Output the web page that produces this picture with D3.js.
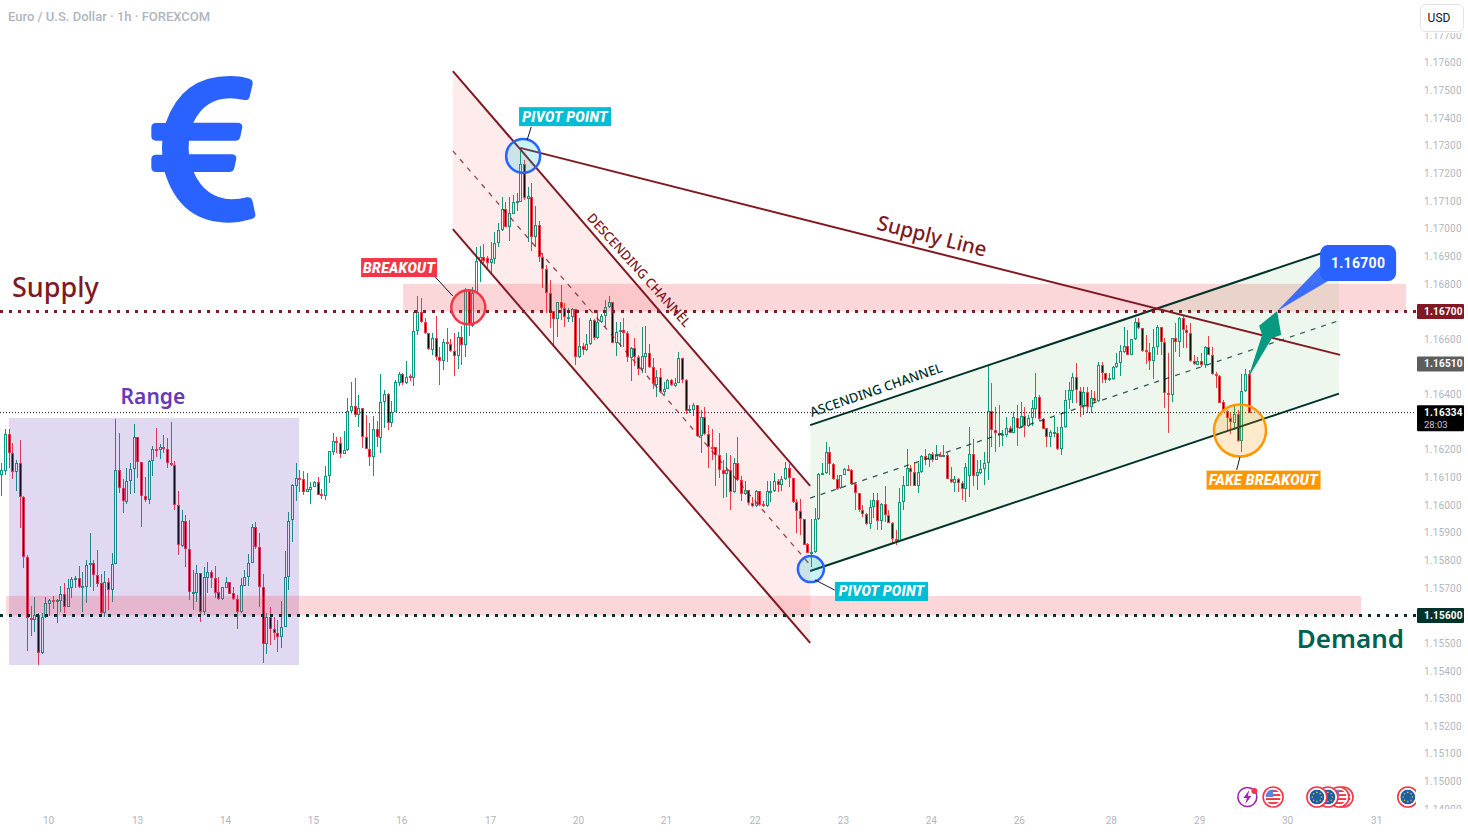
<!DOCTYPE html>
<html lang="en">
<head>
<meta charset="utf-8">
<title>EUR/USD 1h</title>
<script src="https://cdn.jsdelivr.net/npm/d3@7/dist/d3.min.js"></script>
<style>
  html, body { margin: 0; padding: 0; background: #fff; overflow: hidden; }
  svg { display: block; }
  .ui { font-family: Roboto, "Liberation Sans", sans-serif; }
  .hand { font-family: "Noto Sans", "Open Sans", sans-serif; }
</style>
</head>
<body>
<svg id="chart" width="1468" height="836"></svg>
<script>
// Hourly EUR/USD candles, quoted in points (1 point = 0.00001).
const opens = [
116110,116124,116256,116187,116121,116151,116028,115811,115590,115583,
115601,115463,115596,115643,115655,115648,115653,115677,115630,115699,
115731,115735,115702,115705,115782,115789,115746,115717,115608,115720,
115691,115785,116127,116060,116012,116086,116129,116245,116154,116031,
116017,116158,116204,116198,116209,116204,116151,116144,115999,115852,
115941,115840,115683,115683,115753,115614,115737,115757,115735,115684,
115661,115701,115720,115680,115659,115611,115708,115738,115789,115921,
115847,115702,115496,115594,115550,115536,115521,115558,115741,115945,
116070,116097,116093,116048,116055,116066,116083,116038,116034,116104,
116192,116230,116223,116186,116198,116341,116357,116327,116350,116245,
116201,116175,116274,116244,116371,116400,116295,116335,116442,116474,
116440,116466,116458,116631,116699,116661,116621,116561,116603,116537,
116520,116588,116582,116557,116540,116607,116578,116775,116648,116768,
116881,116896,116892,116874,116891,116947,116994,117070,117006,117053,
117095,117097,117234,117108,117115,116971,117013,116898,116853,116766,
116703,116672,116733,116711,116677,116679,116708,116534,116575,116559,
116581,116668,116603,116661,116682,116715,116736,116585,116625,116634,
116621,116533,116567,116534,116491,116537,116549,116498,116434,116462,
116407,116421,116452,116431,116442,116531,116452,116341,116344,116360,
116251,116320,116255,116211,116209,116179,116127,116111,116127,116046,
116151,116091,116040,116054,116006,115997,116050,116003,115997,116048,
116050,116086,116071,116093,116135,116097,116010,115977,115948,115858,
115823,115831,115948,116112,116114,116193,116147,116093,116060,116109,
116130,116126,116075,116042,115980,115966,115930,115991,116018,115943,
116003,115964,115936,115878,115869,116010,116070,116135,116118,116070,
116120,116177,116163,116184,116161,116182,116177,116180,116095,116081,
116093,116079,116057,116103,116183,116103,116115,116129,116151,116341,
116272,116260,116253,116253,116278,116262,116316,116281,116322,116284,
116314,116349,116390,116310,116277,116245,116262,116262,116201,116281,
116380,116414,116462,116414,116359,116408,116353,116386,116376,116506,
116476,116452,116455,116498,116515,116555,116575,116543,116599,116661,
116639,116561,116552,116522,116570,116643,116591,116406,116397,116605,
116588,116678,116633,116623,116522,116508,116521,116506,116570,116543,
116473,116467,116371,116340,116313,116298,116328,116233,116414,116473];

const closes = [
116127,116256,116187,116121,116151,116028,115811,115590,115583,115601,
115463,115596,115644,115655,115648,115656,115677,115630,115699,115731,
115736,115702,115706,115783,115789,115746,115714,115608,115720,115691,
115785,116127,116060,116013,116086,116129,116245,116154,116031,116017,
116158,116202,116200,116209,116204,116151,116144,115999,115854,115941,
115840,115684,115685,115753,115614,115740,115757,115735,115683,115661,
115702,115722,115679,115659,115611,115709,115738,115789,115921,115847,
115702,115496,115594,115550,115536,115521,115558,115741,115943,116071,
116097,116093,116048,116057,116066,116083,116037,116034,116104,116194,
116230,116223,116186,116198,116341,116357,116327,116350,116245,116201,
116175,116274,116245,116371,116400,116295,116335,116444,116474,116440,
116464,116458,116631,116699,116661,116621,116563,116603,116537,116520,
116588,116582,116557,116540,116607,116578,116775,116650,116768,116881,
116896,116881,116874,116891,116947,116995,117070,117007,117055,117095,
117099,117234,117109,117118,116971,117013,116898,116853,116766,116703,
116672,116733,116711,116679,116679,116708,116534,116575,116561,116581,
116668,116603,116661,116682,116715,116736,116585,116625,116634,116621,
116534,116567,116534,116491,116539,116549,116498,116436,116462,116407,
116420,116452,116433,116442,116531,116452,116341,116346,116360,116251,
116320,116255,116211,116208,116179,116127,116111,116127,116046,116151,
116091,116040,116054,116006,115997,116050,116000,115997,116050,116052,
116086,116072,116093,116135,116097,116010,115977,115948,115855,115825,
115831,115948,116112,116115,116193,116147,116093,116057,116110,116130,
116127,116075,116042,115980,115966,115931,115991,116018,115943,116003,
115964,115936,115877,115869,116010,116071,116135,116118,116070,116120,
116177,116163,116184,116161,116184,116177,116180,116095,116082,116093,
116079,116057,116139,116185,116103,116118,116130,116151,116341,116272,
116260,116253,116256,116278,116262,116317,116280,116322,116284,116314,
116350,116390,116310,116276,116247,116265,116265,116201,116281,116380,
116416,116462,116416,116359,116408,116356,116386,116376,116506,116476,
116452,116458,116498,116515,116557,116575,116543,116599,116661,116639,
116558,116552,116522,116570,116645,116591,116404,116397,116605,116588,
116678,116633,116623,116522,116509,116521,116506,116570,116543,116473,
116467,116370,116340,116313,116299,116328,116233,116414,116473,116334];

const highs = [
116151,116274,116274,116223,116163,116235,116033,115819,115635,115666,
115608,115608,115668,115659,115671,115660,115707,115719,115731,115741,
115743,115779,115759,115801,115898,115801,115837,115750,115761,115737,
115825,116311,116262,116093,116133,116153,116293,116247,116154,116100,
116163,116214,116279,116221,116253,116241,116299,116159,116050,115982,
115964,115946,115765,115781,115753,115777,115793,115765,115779,115741,
115705,115741,115723,115702,115674,115735,115765,115823,115931,115939,
115898,115750,115608,115632,115596,115584,115653,115834,115976,116076,
116151,116127,116123,116114,116084,116088,116100,116057,116141,116194,
116259,116245,116245,116268,116386,116445,116459,116398,116350,116325,
116295,116322,116304,116474,116416,116404,116377,116452,116482,116476,
116521,116474,116699,116757,116748,116675,116623,116621,116684,116573,
116599,116639,116599,116621,116627,116648,116784,116778,116790,116935,
116937,116944,116901,116953,116989,117019,117113,117097,117115,117122,
117128,117290,117248,117152,117164,117082,117027,116913,116868,116814,
116703,116733,116796,116730,116712,116712,116708,116675,116585,116618,
116675,116672,116706,116691,116742,116756,116736,116663,116663,116675,
116631,116571,116603,116542,116645,116648,116583,116531,116489,116495,
116446,116455,116455,116458,116552,116531,116455,116362,116368,116362,
116344,116356,116290,116274,116211,116259,116163,116187,116181,116169,
116247,116103,116085,116054,116030,116054,116052,116016,116085,116085,
116115,116093,116103,116157,116148,116097,116021,116021,115951,115861,
115948,115988,116115,116151,116227,116209,116151,116109,116110,116134,
116145,116129,116079,116042,116000,115970,116018,116042,116045,116006,
116067,115982,115940,115910,116061,116103,116204,116145,116157,116151,
116181,116202,116187,116193,116216,116190,116217,116187,116139,116105,
116097,116085,116151,116281,116239,116163,116163,116193,116507,116440,
116356,116360,116272,116320,116284,116335,116362,116374,116356,116326,
116380,116479,116398,116313,116277,116271,116319,116283,116334,116416,
116446,116476,116515,116428,116428,116428,116416,116414,116518,116518,
116479,116476,116503,116549,116579,116643,116633,116599,116675,116675,
116639,116615,116585,116635,116651,116645,116603,116549,116605,116660,
116681,116687,116651,116657,116543,116537,116551,116575,116611,116570,
116482,116470,116380,116344,116332,116362,116344,116473,116491,116488];

const lows = [
116033,116109,116133,116095,116051,115918,115771,115473,115527,115542,
115421,115461,115590,115599,115623,115574,115611,115608,115630,115662,
115699,115699,115614,115644,115705,115690,115705,115596,115596,115620,
115650,115785,116045,115972,116004,116040,116045,116097,115922,116009,
116004,116103,116173,116165,116187,116133,116142,115980,115819,115849,
115775,115656,115620,115650,115578,115602,115680,115699,115662,115656,
115656,115699,115678,115656,115553,115608,115708,115707,115789,115841,
115632,115427,115461,115494,115512,115469,115484,115558,115693,115867,
116016,116048,116036,116048,116004,116064,116036,116022,116018,116078,
116181,116187,116169,116184,116196,116332,116319,116283,116205,116201,
116141,116105,116208,116189,116277,116271,116283,116335,116430,116434,
116438,116450,116432,116615,116657,116619,116561,116543,116524,116434,
116488,116519,116555,116467,116493,116506,116537,116613,116645,116768,
116808,116874,116856,116838,116872,116935,116992,117004,116956,117052,
117065,117097,117103,116950,116920,116935,116880,116784,116694,116639,
116573,116609,116669,116645,116663,116662,116507,116533,116543,116557,
116579,116597,116600,116657,116645,116712,116585,116540,116571,116571,
116519,116450,116501,116470,116479,116476,116495,116419,116390,116404,
116398,116420,116431,116428,116440,116443,116328,116332,116323,116247,
116189,116253,116133,116163,116070,116097,116024,116028,115980,116045,
116085,116015,116037,116000,115994,115994,115997,115994,115994,116012,
116047,116048,116051,116091,116064,116006,115900,115892,115855,115825,
115775,115825,115946,116109,116112,116109,116091,116054,116059,116109,
116124,116073,115982,115976,115958,115927,115912,115952,115910,115910,
115940,115934,115859,115855,115869,115982,116068,116067,116067,116045,
116117,116145,116139,116157,116161,116175,116173,116093,116081,116048,
116048,116018,116012,116028,116067,116054,116112,116073,116091,116211,
116193,116211,116214,116247,116260,116260,116214,116280,116247,116281,
116284,116314,116302,116274,116211,116211,116247,116199,116181,116277,
116346,116368,116368,116320,116326,116332,116332,116368,116374,116440,
116440,116450,116452,116494,116468,116549,116543,116543,116597,116635,
116555,116510,116488,116455,116543,116543,116352,116259,116374,116555,
116536,116567,116567,116518,116506,116506,116500,116494,116543,116470,
116422,116368,116338,116271,116256,116271,116229,116190,116410,116334];

// Session labels along the time axis, each with the bar it sits on.
const dayLabels = ["10","13","14","15","16","17","20","21","22","23","24","26","28","29","30","31"];
const dayBars   = [12.7,36.9,60.8,84.7,108.7,132.8,156.7,180.6,204.7,228.7,252.6,276.5,301.5,325.5,349.4,373.6];

// Levels and price tags.
const supplyLevel = 116700, demandLevel = 115600, lastPrice = 116334, prevClose = 116510;

// Price scale ticks, in points; a tick that would sit under a price tag gives way to it.
const priceTicks = d3.range(114900, 117701, 100)
  .filter(t => ![supplyLevel, demandLevel, lastPrice, prevClose].some(v => Math.abs(v - t) < 40));

// Drawing tools, anchored on [bar, points].
const rangeBox     = [[2.1, 116315], [80.9, 115421]];
const supplyZone   = [[109.2, 116800], [381.7, 116700]];
const demandZone   = [[1.3, 115671], [369.5, 115600]];
const descUpper    = [[122.7, 117570], [219.8, 116069]];
const descLower    = [[122.7, 116998], [219.8, 115501]];
const descMiddle   = [[122.7, 117281], [219.8, 115783]];
const ascUpper     = [[219.8, 116289], [363.5, 116932]];
const ascLower     = [[219.8, 115761], [363.5, 116403]];
const ascMiddle    = [[219.8, 116025], [363.5, 116667]];
const supplyTrend  = [[141.0, 117292], [363.8, 116543]];
const targetArrow  = [[338.8,116459],[342.6,116615],[341.8,116648],[346.7,116702],[347.8,116615],[345.3,116604]];
const calloutTail  = [[358.3,116862],[346.7,116702],[360.5,116810]];

const RED = "#f23645", GREEN = "#089981", MAROON = "#801922", PINE = "#00332a", BLUE = "#2962ff";

const markers = [
  { bar: 141.8, pts: 117263, r: 17, stroke: BLUE,      fill: "rgba(0,188,212,0.2)" },
  { bar: 220.0, pts: 115768, r: 13, stroke: BLUE,      fill: "rgba(0,188,212,0.2)" },
  { bar: 126.9, pts: 116715, r: 17, stroke: RED,       fill: "rgba(242,54,69,0.2)" },
  { bar: 336.6, pts: 116269, r: 26, stroke: "#ff9800", fill: "rgba(255,152,0,0.2)" }
];
const tags = [
  { text: "PIVOT POINT",   bar: 153.2, pts: 117405, w: 92,  bg: "#00bcd4", link: [[144.0,117368],[142.9,117321]] },
  { text: "PIVOT POINT",   bar: 239.2, pts: 115687, w: 93,  bg: "#00bcd4", link: [[221.1,115729],[226.5,115692]] },
  { text: "BREAKOUT",      bar: 108.1, pts: 116859, w: 76,  bg: RED,       link: [[117.9,116825],[122.7,116756]] },
  { text: "FAKE BREAKOUT", bar: 343.0, pts: 116090, w: 114, bg: "#ff9800", link: [[336.6,116174],[335.7,116127]] }
];
const notes = [
  { text: "Supply", bar: 2.9,   pts: 116785, size: 27, color: MAROON,    anchor: "start",  rot: 0,   weight: 500 },
  { text: "Demand", bar: 381.2, pts: 115515, size: 26, color: "#006150", anchor: "end",    rot: 0,   weight: 600 },
  { text: "Range",  bar: 41.2,  pts: 116392, size: 21, color: "#673ab7", anchor: "middle", rot: 0,   weight: 600 },
  { text: "Supply Line", bar: 252.9, pts: 116973, size: 20.5, color: MAROON, anchor: "middle", rot: 14.2, weight: 500 },
  { text: "DESCENDING CHANNEL", bar: 173.3, pts: 116850, size: 13, color: MAROON, anchor: "middle", rot: 48, weight: 500 },
  { text: "ASCENDING CHANNEL",  bar: 237.7, pts: 116416, size: 13, color: PINE,   anchor: "middle", rot: -19, weight: 500 }
];
const eventIcons = [
  { bar: 382.2, kind: "eu" }, { bar: 364.6, kind: "us" }, { bar: 363.5, kind: "us" },
  { bar: 360.5, kind: "eu" }, { bar: 357.5, kind: "eu" }, { bar: 345.6, kind: "us" }
];

const x = d3.scaleLinear().domain([0, 373]).range([1.3, 1.3 + 3.68 * 373]);
const y = d3.scaleLinear().domain([117700, 114900]).range([35.1, 809]);
const pt = ([b, p]) => [x(b), y(p)];
const line = d3.line().x(d => x(d[0])).y(d => y(d[1]));

const svg = d3.select("#chart");
const defs = svg.append("defs");
defs.append("clipPath").attr("id", "plotClip").append("rect").attr("x", 0).attr("y", 0).attr("width", 1416).attr("height", 836);
defs.append("clipPath").attr("id", "scaleClip").append("rect").attr("x", 1416).attr("y", 33).attr("width", 52).attr("height", 776);
defs.append("clipPath").attr("id", "disc").append("circle").attr("r", 7.6);

// Candles sit underneath every drawing tool: a coloured outline with a hollow or dark core.
const candles = svg.append("g").attr("clip-path", "url(#plotClip)").attr("shape-rendering", "crispEdges");
opens.forEach((o, i) => {
  const c = closes[i], up = c >= o;
  const col = up ? GREEN : RED;
  const cx = Math.round(x(i));
  const top = Math.round(y(Math.max(o, c))), bot = Math.max(Math.round(y(Math.min(o, c))), top + 2);
  candles.append("rect").attr("x", cx).attr("y", Math.round(y(highs[i]))).attr("width", 1)
    .attr("height", Math.max(Math.round(y(lows[i])) - Math.round(y(highs[i])), 1)).attr("fill", col);
  candles.append("rect").attr("x", cx - 1).attr("y", top).attr("width", 3).attr("height", bot - top).attr("fill", col);
  if (bot - top > 2) {
    candles.append("rect").attr("x", cx).attr("y", top + 1).attr("width", 1).attr("height", bot - top - 2)
      .attr("fill", up ? "#fff" : "#000");
  }
});

const tools = svg.append("g").attr("clip-path", "url(#plotClip)");

function band(corners, fill) {
  const [a, b] = corners.map(pt);
  tools.append("rect").attr("x", a[0]).attr("y", a[1]).attr("width", b[0] - a[0]).attr("height", b[1] - a[1]).attr("fill", fill);
}
band(rangeBox, "rgba(103,58,183,0.2)");
band(supplyZone, "rgba(242,54,69,0.2)");
band(demandZone, "rgba(242,54,69,0.2)");

function channel(upper, lower, middle, fill, color) {
  const outline = [upper[0], upper[1], lower[1], lower[0]];
  tools.append("path").attr("d", line(outline) + "Z").attr("fill", fill);
  tools.append("path").attr("d", line(middle)).attr("fill", "none").attr("stroke", color)
    .attr("stroke-width", 1.3).attr("stroke-opacity", 0.8).attr("stroke-dasharray", "5 6");
  [upper, lower].forEach(l => tools.append("path").attr("d", line(l)).attr("fill", "none").attr("stroke", color).attr("stroke-width", 2));
}
channel(descUpper, descLower, descMiddle, "rgba(242,54,69,0.1)", MAROON);
channel(ascUpper, ascLower, ascMiddle, "rgba(76,175,80,0.1)", PINE);
tools.append("path").attr("d", line(supplyTrend)).attr("fill", "none").attr("stroke", MAROON).attr("stroke-width", 2);

// Horizontal levels run across the whole pane.
function level(value, color, width, dash) {
  tools.append("line").attr("x1", 0).attr("x2", 1416).attr("y1", y(value)).attr("y2", y(value))
    .attr("stroke", color).attr("stroke-width", width).attr("stroke-dasharray", dash);
}
level(lastPrice, "#131722", 1, "1 2");
level(supplyLevel, MAROON, 3, "3 6");
level(demandLevel, PINE, 3, "3 6");

markers.forEach(m => {
  tools.append("circle").attr("cx", x(m.bar)).attr("cy", y(m.pts)).attr("r", m.r)
    .attr("fill", m.fill).attr("stroke", m.stroke).attr("stroke-width", 2.5);
});

tags.forEach(t => {
  tools.append("path").attr("d", line(t.link)).attr("stroke", "#131722").attr("stroke-width", 1).attr("fill", "none");
  tools.append("rect").attr("x", x(t.bar) - t.w / 2).attr("y", y(t.pts) - 9.5).attr("width", t.w).attr("height", 19).attr("fill", t.bg);
  tools.append("text").attr("class", "ui").attr("x", x(t.bar)).attr("y", y(t.pts) + 5)
    .attr("text-anchor", "middle").attr("font-size", 14).attr("font-weight", 900).attr("font-style", "italic")
    .attr("letter-spacing", 0.3).attr("fill", "#fff").text(t.text);
});

notes.forEach(n => {
  tools.append("text").attr("class", "hand")
    .attr("transform", `translate(${x(n.bar)},${y(n.pts)}) rotate(${n.rot})`)
    .attr("dy", "0.35em").attr("text-anchor", n.anchor).attr("font-size", n.size).attr("font-weight", n.weight)
    .attr("fill", n.color).text(n.text);
});

// Target: arrow off the last candle, callout with the level it aims at.
tools.append("path").attr("d", line(targetArrow) + "Z").attr("fill", GREEN);
tools.append("path").attr("d", line(calloutTail) + "Z").attr("fill", BLUE).attr("fill-opacity", 0.9);
const calloutX = x(368.7), calloutY = y(116875);
tools.append("rect").attr("x", calloutX - 38).attr("y", calloutY - 18).attr("width", 76).attr("height", 36).attr("rx", 8).attr("fill", BLUE);
tools.append("text").attr("class", "ui").attr("x", calloutX).attr("y", calloutY + 5).attr("text-anchor", "middle")
  .attr("font-size", 14).attr("font-weight", 700).attr("fill", "#fff").attr("letter-spacing", 0.3).text("1.16700");

// Euro emblem in the top left corner.
svg.append("path").attr("transform", "translate(130,60) scale(0.3333)").attr("fill", BLUE)
  .attr("d", "M352 55Q370 58 368 72L359 110Q356 122 343 120Q318 115 300 115Q225 115 190 188L322 188Q338 188 337 202L331 230Q328 242 316 242L177 242Q175 262 177 283L305 283Q320 283 319 297L313 323Q310 336 298 336L191 336Q225 415 305 418Q330 418 350 412Q365 410 368 425L376 462Q378 475 362 478Q330 488 298 488Q150 488 104 336L78 336Q64 336 64 322L64 298Q64 284 78 284L97 284Q95 262 97 242L78 242Q64 242 64 228L64 203Q64 189 78 189L107 189Q155 48 300 48Q330 48 352 55Z");

// Symbol header.
svg.append("text").attr("class", "ui").attr("x", 8).attr("y", 20.5).attr("font-size", 13).attr("font-weight", 500)
  .attr("fill", "#b2b5be").text("Euro / U.S. Dollar · 1h · FOREXCOM");

// Price axis.
const yAxis = d3.axisRight(y).tickValues(priceTicks).tickSize(0).tickPadding(0)
  .tickFormat(v => (v / 1e5).toFixed(5));
const yG = svg.append("g").attr("class", "ui").attr("transform", "translate(1424,0)").call(yAxis);
yG.select(".domain").remove();
yG.selectAll("text").attr("font-size", 10).attr("font-family", "Roboto, sans-serif").attr("fill", "#b2b5be").attr("letter-spacing", 0.2);
const yClip = svg.append("g").attr("clip-path", "url(#scaleClip)");
yClip.node().appendChild(yG.node());

// Time axis.
const xAxis = d3.axisBottom(x).tickValues(dayBars).tickSize(0).tickPadding(0)
  .tickFormat((d, i) => dayLabels[i]);
const xG = svg.append("g").attr("class", "ui").attr("transform", "translate(0,817)").call(xAxis);
xG.select(".domain").remove();
xG.selectAll("text").attr("font-size", 10).attr("font-family", "Roboto, sans-serif").attr("fill", "#b2b5be");

// Currency button above the price axis.
svg.append("rect").attr("x", 1420.5).attr("y", 4.5).attr("width", 43).attr("height", 27).attr("rx", 5)
  .attr("fill", "#fff").attr("stroke", "#e0e3eb");
svg.append("text").attr("class", "ui").attr("x", 1439).attr("y", 22).attr("text-anchor", "middle")
  .attr("font-size", 12).attr("fill", "#131722").text("USD");

// Coloured tags on the price axis.
function priceTag(value, bg, second) {
  const cy = y(value), h = second ? 26 : 15;
  svg.append("rect").attr("x", 1417).attr("y", cy - 7.5).attr("width", 47).attr("height", h).attr("rx", 1).attr("fill", bg);
  svg.append("text").attr("class", "ui").attr("x", 1424).attr("y", cy + 3.4).attr("font-size", 10).attr("font-weight", 700)
    .attr("fill", "#fff").attr("letter-spacing", 0.2).text((value / 1e5).toFixed(5));
  if (second) svg.append("text").attr("class", "ui").attr("x", 1424).attr("y", cy + 15.8).attr("font-size", 9.5)
    .attr("fill", "#c8cad0").text(second);
}
priceTag(supplyLevel, MAROON);
priceTag(prevClose, "#5d5d5d");
priceTag(lastPrice, "#000", "28:03");
priceTag(demandLevel, PINE);

// Economic event badges along the bottom of the pane.
const iconRow = svg.append("g").attr("clip-path", "url(#plotClip)");
function badge(cx, kind) {
  const g = iconRow.append("g").attr("transform", `translate(${cx},797)`);
  g.append("circle").attr("r", 10).attr("fill", "#fff").attr("stroke", RED).attr("stroke-width", 1.6);
  const inner = g.append("g").attr("clip-path", "url(#disc)");
  if (kind === "eu") {
    inner.append("circle").attr("r", 7.6).attr("fill", "#1a5ea8");
    d3.range(8).forEach(k => {
      const a = k * Math.PI / 4;
      inner.append("circle").attr("cx", 4.6 * Math.cos(a)).attr("cy", 4.6 * Math.sin(a)).attr("r", 0.8).attr("fill", "#f5c518");
    });
  } else {
    inner.append("rect").attr("x", -8).attr("y", -8).attr("width", 16).attr("height", 16).attr("fill", "#fff");
    [-6, -2, 2, 6].forEach(s => inner.append("rect").attr("x", -8).attr("y", s - 0.9).attr("width", 16).attr("height", 1.9).attr("fill", RED));
    inner.append("rect").attr("x", -8).attr("y", -8).attr("width", 8).attr("height", 8).attr("fill", "#5b86d8");
  }
}
eventIcons.forEach(e => badge(x(e.bar), e.kind));
const bolt = svg.append("g").attr("transform", `translate(${x(338.6)},797)`);
bolt.append("circle").attr("r", 9.5).attr("fill", "#fff").attr("stroke", "#9c27b0").attr("stroke-width", 1.6);
bolt.append("path").attr("d", "M2 -7L-4 1L-0.5 1L-2 7L4 -1L0.5 -1Z").attr("fill", "#9c27b0");
bolt.append("circle").attr("cx", 7).attr("cy", -6).attr("r", 3).attr("fill", RED);
</script>
</body>
</html>
